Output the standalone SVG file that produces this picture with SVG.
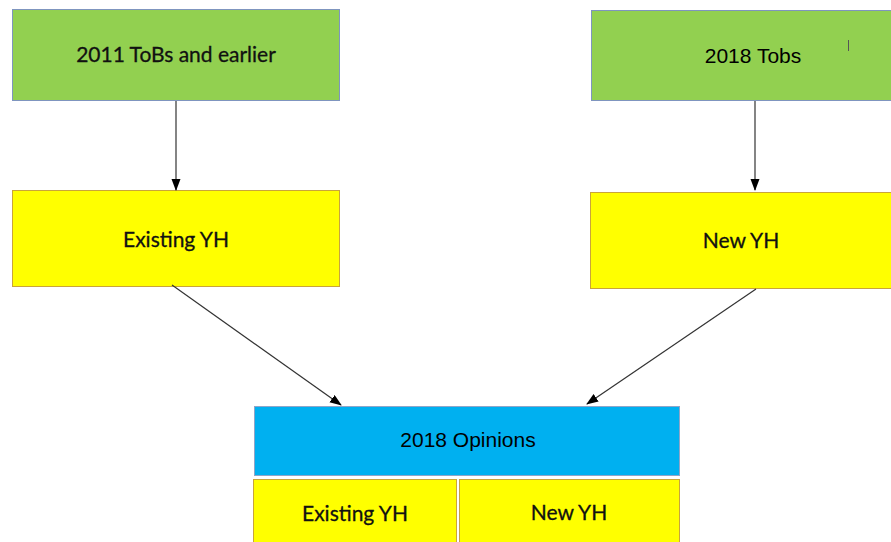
<svg xmlns="http://www.w3.org/2000/svg" width="891" height="542" viewBox="0 0 891 542">
<style>
.green{fill:#92D050;stroke:#7F95BF;stroke-width:1}
.yellow{fill:#FFFF00;stroke:#C9A43A;stroke-width:1}
.blue{fill:#00B0F0;stroke:#8FA5C8;stroke-width:1}
.cal{font-family:Lato,"Open Sans",sans-serif;font-size:21px;fill:#111;text-anchor:middle;stroke:#111;stroke-width:0.3}
.ari{font-family:"Liberation Sans",Arial,sans-serif;font-size:21px;fill:#000;text-anchor:middle}
.conn{stroke:#333;stroke-width:1.2;fill:none;marker-end:url(#arr)}
</style>
<defs>
<marker id="arr" markerWidth="12" markerHeight="10" refX="11" refY="4.5" orient="auto" markerUnits="userSpaceOnUse">
<path d="M0,0 L12,4.5 L0,9 Z" fill="#000"/>
</marker>
</defs>
<rect width="891" height="542" fill="#fff"/>
<g id="n-2011">
<rect class="green" x="12.5" y="9.5" width="327" height="91"/>
<text class="cal" x="176" y="62">2011 ToBs and earlier</text>
</g>
<g id="n-2018tobs">
<rect class="green" x="591.5" y="10.5" width="301" height="90"/>
<text class="ari" x="753" y="63">2018 Tobs</text>
<line x1="848.5" y1="40" x2="848.5" y2="51" stroke="#555" stroke-width="1"/>
</g>
<g id="n-existing">
<rect class="yellow" x="12.5" y="190.5" width="327" height="96"/>
<text class="cal" x="176" y="247">Existing YH</text>
</g>
<g id="n-new">
<rect class="yellow" x="590.5" y="192.5" width="302" height="96"/>
<text class="cal" x="741" y="248">New YH</text>
</g>
<g id="n-opinions">
<rect class="blue" x="254.5" y="406.5" width="425" height="69"/>
<text class="ari" x="468" y="447">2018 Opinions</text>
</g>
<g id="n-op-existing">
<rect class="yellow" x="253.5" y="479.5" width="203" height="64"/>
<text class="cal" x="355" y="521">Existing YH</text>
</g>
<g id="n-op-new">
<rect class="yellow" x="459.5" y="479.5" width="220" height="64"/>
<text class="cal" x="569" y="520">New YH</text>
</g>
<g id="connectors">
<line class="conn" x1="176" y1="101" x2="176" y2="190"/>
<line class="conn" x1="755" y1="101" x2="755" y2="190"/>
<line class="conn" x1="172" y1="285" x2="341" y2="405"/>
<line class="conn" x1="756" y1="289" x2="587" y2="404"/>
</g>
</svg>
